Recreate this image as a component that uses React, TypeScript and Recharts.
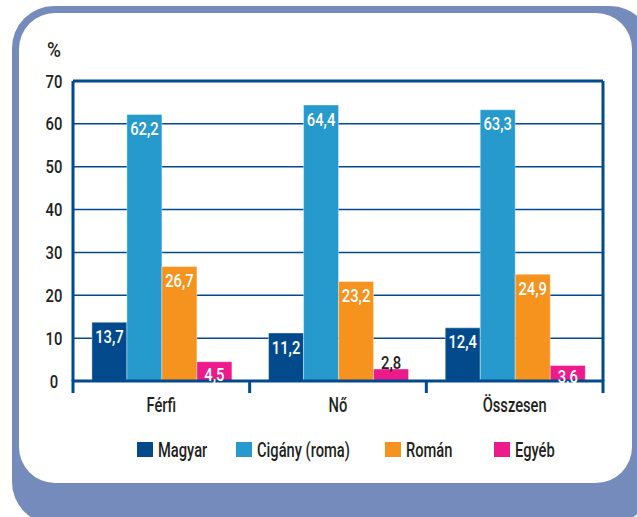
import React from 'react';
import {
  BarChart,
  Bar,
  XAxis,
  YAxis,
  CartesianGrid,
  ReferenceLine,
  Legend,
  LabelList,
} from 'recharts';

// ---- data ----
const categories = ['Férfi', 'Nő', 'Összesen'];
const magyarValues = [13.7, 11.2, 12.4];
const ciganyValues = [62.2, 64.4, 63.3];
const romanValues = [26.7, 23.2, 24.9];
const egyebValues = [4.5, 2.8, 3.6];
const yTicks = [0, 10, 20, 30, 40, 50, 60, 70];
const seriesNames = ['Magyar', 'Cigány (roma)', 'Román', 'Egyéb'];

const data = categories.map((name, i) => ({
  name,
  magyar: magyarValues[i],
  cigany: ciganyValues[i],
  roman: romanValues[i],
  egyeb: egyebValues[i],
}));

// ---- styles ----
const FONT = "Roboto, 'DejaVu Sans', sans-serif";
const WEIGHT = 500;
const TEXT = '#231f20';
const FRAME = '#014a8d';
const COLORS = ['#034a8c', '#279acd', '#f6921e', '#ec1a8a'];
const KEYS = ['magyar', 'cigany', 'roman', 'egyeb'];
const LEGEND_WIDTHS = [99, 149, 109, 80];
const SMALL = 18.5;
const LARGE = 21;
const SX_SMALL = 0.8;
const SX_LARGE = 0.7;

const fmt = (v: number) => v.toFixed(1).replace('.', ',');

const CondText = ({ x, y, size, sx, fill = TEXT, anchor = 'middle', children }: any) => (
  <text
    transform={`translate(${x} ${y}) scale(${sx} 1)`}
    x={0}
    y={0}
    textAnchor={anchor}
    fill={fill}
    fontSize={size}
    fontWeight={WEIGHT}
    fontFamily={FONT}
  >
    {children}
  </text>
);

const renderLabel = (props: any) => {
  const vb = props.viewBox || {};
  const x = Number(props.x ?? vb.x);
  const y = Number(props.y ?? vb.y);
  const width = Number(props.width ?? vb.width);
  const height = Math.abs(Number(props.height ?? vb.height));
  const v = Number(props.value);
  const inside = v >= 3;
  const off = Math.min(20.5, 10 + height / 2);
  return (
    <CondText
      x={x + width / 2}
      y={inside ? y + off : y}
      size={SMALL}
      sx={SX_SMALL}
      fill={inside ? '#ffffff' : TEXT}
    >
      {fmt(v)}
    </CondText>
  );
};

const YTick = (props: any) => (
  <CondText x={54} y={props.y + 6.5} size={SMALL} sx={SX_SMALL}>
    {props.payload.value}
  </CondText>
);

const XTick = (props: any) => {
  const { x, y, payload, index, visibleTicksCount, width } = props;
  const half =
    payload && payload.offset ? payload.offset : Number(width) / Number(visibleTicksCount) / 2;
  const isLast = index === visibleTicksCount - 1;
  return (
    <g>
      <line x1={x - half} x2={x - half} y1={y - 1} y2={y + 12} stroke={FRAME} strokeWidth={3} />
      {isLast && (
        <line x1={x + half} x2={x + half} y1={y - 1} y2={y + 12} stroke={FRAME} strokeWidth={3} />
      )}
      <CondText x={x} y={y + 31} size={LARGE} sx={SX_LARGE}>
        {payload.value}
      </CondText>
    </g>
  );
};

const PercentLabel = () => (
  <CondText x={54} y={57} size={20} sx={0.95}>
    %
  </CondText>
);

const LegendContent = () => {
  let cx = 137;
  const items = seriesNames.map((name, i) => {
    const x0 = cx;
    cx += LEGEND_WIDTHS[i];
    return (
      <g key={name}>
        <rect x={x0} y={4} width={16} height={15} fill={COLORS[i]} />
        <CondText x={x0 + 21} y={19} size={LARGE} sx={SX_LARGE} anchor="start">
          {name}
        </CondText>
      </g>
    );
  });
  return (
    <svg width={637} height={30} style={{ display: 'block' }}>
      {items}
    </svg>
  );
};

export default function App() {
  return (
    <div style={{ position: 'absolute', left: 0, top: 0, width: 637, height: 517, overflow: 'hidden', background: '#fff' }}>
      <svg width={637} height={517} style={{ position: 'absolute', left: 0, top: 0 }}>
        <rect x={12} y={6} width={640} height={518} rx={42} ry={42} fill="#758bbb" />
        <rect x={19} y={13} width={613} height={470} rx={36} ry={36} fill="#ffffff" />
      </svg>
      <div style={{ position: 'absolute', left: 0, top: 0 }}>
        <BarChart
          width={637}
          height={517}
          data={data}
          margin={{ top: 81, right: 33, left: 0, bottom: 135 }}
          barCategoryGap="10.7%"
          barGap={0}
        >
          <CartesianGrid vertical={false} stroke={FRAME} strokeWidth={1.5} />
          <XAxis
            dataKey="name"
            height={1}
            tickLine={false}
            tickSize={0}
            tickMargin={0}
            interval={0}
            tick={<XTick />}
            axisLine={{ stroke: FRAME, strokeWidth: 3 }}
          />
          <YAxis
            domain={[0, 70]}
            ticks={yTicks}
            width={73}
            tickLine={false}
            tickSize={0}
            tick={<YTick />}
            axisLine={{ stroke: FRAME, strokeWidth: 3 }}
            label={<PercentLabel />}
          />
          <YAxis
            yAxisId="r"
            orientation="right"
            domain={[0, 70]}
            width={1}
            tick={false}
            tickLine={false}
            axisLine={{ stroke: FRAME, strokeWidth: 3 }}
          />
          <ReferenceLine y={70} stroke={FRAME} strokeWidth={3} />
          {KEYS.map((k, i) => (
            <Bar
              key={k}
              dataKey={k}
              name={seriesNames[i]}
              fill={COLORS[i]}
              stroke="rgba(255,255,255,0.5)"
              strokeWidth={0.75}
              isAnimationActive={false}
            >
              <LabelList dataKey={k} content={renderLabel} />
            </Bar>
          ))}
          <Legend
            layout="horizontal"
            verticalAlign="middle"
            align="center"
            content={<LegendContent />}
            wrapperStyle={{ top: 438, left: 0, width: 637 }}
          />
        </BarChart>
      </div>
    </div>
  );
}
